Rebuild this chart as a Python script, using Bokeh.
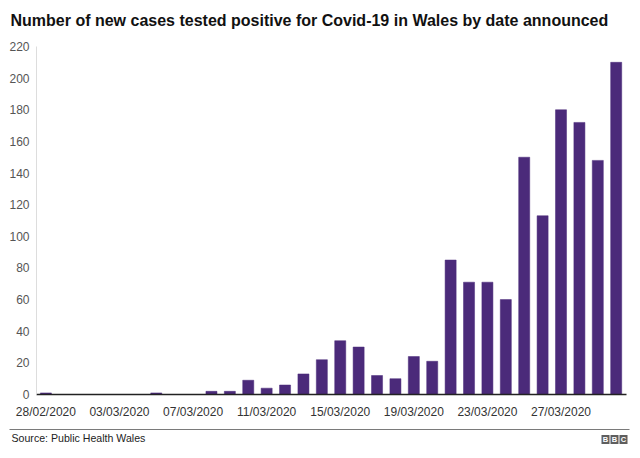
from bokeh.plotting import figure
from bokeh.layouts import column
from bokeh.models import FixedTicker, Range1d, ColumnDataSource
from bokeh.core.properties import value
from bokeh.embed import file_html
from bokeh.resources import INLINE

dates = ["28/02/2020", "29/02/2020", "01/03/2020", "02/03/2020", "03/03/2020",
         "04/03/2020", "05/03/2020", "06/03/2020", "07/03/2020", "08/03/2020",
         "09/03/2020", "10/03/2020", "11/03/2020", "12/03/2020", "13/03/2020",
         "14/03/2020", "15/03/2020", "16/03/2020", "17/03/2020", "18/03/2020",
         "19/03/2020", "20/03/2020", "21/03/2020", "22/03/2020", "23/03/2020",
         "24/03/2020", "25/03/2020", "26/03/2020", "27/03/2020", "28/03/2020",
         "29/03/2020", "30/03/2020"]
cases = [1, 0, 0, 0, 0, 0, 1, 0, 0, 2, 2, 9, 4, 6, 13, 22, 34, 30, 12, 10,
         24, 21, 85, 71, 71, 60, 150, 113, 180, 172, 148, 210]
y_ticks = [0, 20, 40, 60, 80, 100, 120, 140, 160, 180, 200, 220]
x_tick_idx = [0, 4, 8, 12, 16, 20, 24, 28]

title_text = "Number of new cases tested positive for Covid-19 in Wales by date announced"
source_text = "Source: Public Health Wales"
logo_letters = ["B", "B", "C"]

FONT = "Liberation Sans"
BAR = "#4b2a7a"
W = 640


def blank(height):
    f = figure(width=W, height=height, output_backend="svg", toolbar_location=None,
               x_range=Range1d(0, W), y_range=Range1d(0, height),
               min_border=0, min_border_left=0, min_border_right=0,
               min_border_top=0, min_border_bottom=0,
               x_axis_location=None, y_axis_location=None, frame_align=False)
    f.xgrid.visible = False
    f.ygrid.visible = False
    f.outline_line_color = None
    return f


# ---- title strip ----
t = blank(38)
t.text(x=[10], y=[18], text=[title_text], text_font=value(FONT),
       text_font_size="16px", text_font_style="bold", text_color="#111111",
       text_baseline="middle")

# ---- main chart ----
src = ColumnDataSource(dict(x=list(range(len(dates))), cases=cases, date=dates))

p = figure(width=W, height=386, output_backend="svg", toolbar_location=None,
           x_range=Range1d(-0.51, 31.56), y_range=Range1d(0, 220),
           min_border_left=36, min_border_right=14, min_border_top=8,
           min_border_bottom=30, frame_align=False)

p.vbar(x="x", top="cases", width=0.6, source=src, fill_color=BAR,
       line_color=BAR, line_width=0.5)

p.xgrid.visible = False
p.ygrid.visible = False
p.outline_line_color = None

p.yaxis.ticker = FixedTicker(ticks=y_ticks)
p.yaxis.axis_line_color = "#dddddd"
p.yaxis.major_tick_line_color = None
p.yaxis.minor_tick_line_color = None
p.yaxis.major_tick_out = 0
p.yaxis.major_tick_in = 0
p.yaxis.major_label_text_font = FONT
p.yaxis.major_label_text_font_size = "12px"
p.yaxis.major_label_text_color = "#555555"
p.yaxis.major_label_standoff = 7

p.xaxis.ticker = FixedTicker(ticks=x_tick_idx)
p.xaxis.major_label_overrides = {i: dates[i] for i in x_tick_idx}
p.xaxis.axis_line_color = "#222222"
p.xaxis.axis_line_width = 1.6
p.xaxis.major_tick_line_color = None
p.xaxis.minor_tick_line_color = None
p.xaxis.major_tick_out = 0
p.xaxis.major_tick_in = 0
p.xaxis.major_label_text_font = FONT
p.xaxis.major_label_text_font_size = "12px"
p.xaxis.major_label_text_color = "#333333"
p.xaxis.major_label_standoff = 10

# ---- footer strip ----
f = blank(34)
f.quad(left=[9], right=[629], bottom=[28.4], top=[29.6],
       fill_color="#7a7a7a", line_color=None)
f.text(x=[11], y=[20.5], text=[source_text], text_font=value(FONT),
       text_font_size="10.6px", text_color="#222222", text_baseline="middle")
logo_left = [601 + 9 * i for i in range(len(logo_letters))]
f.quad(left=logo_left, right=[v + 8 for v in logo_left], bottom=14.5, top=23.5,
       fill_color="#5e5e5e", line_color=None)
f.text(x=[v + 4 for v in logo_left], y=[18.8] * 3, text=logo_letters,
       text_font=value(FONT), text_font_size="7.5px", text_font_style="bold",
       text_color="white", text_align="center", text_baseline="middle")

layout = column(t, p, f, spacing=0)
open("out.html", "w").write(file_html(layout, INLINE))
